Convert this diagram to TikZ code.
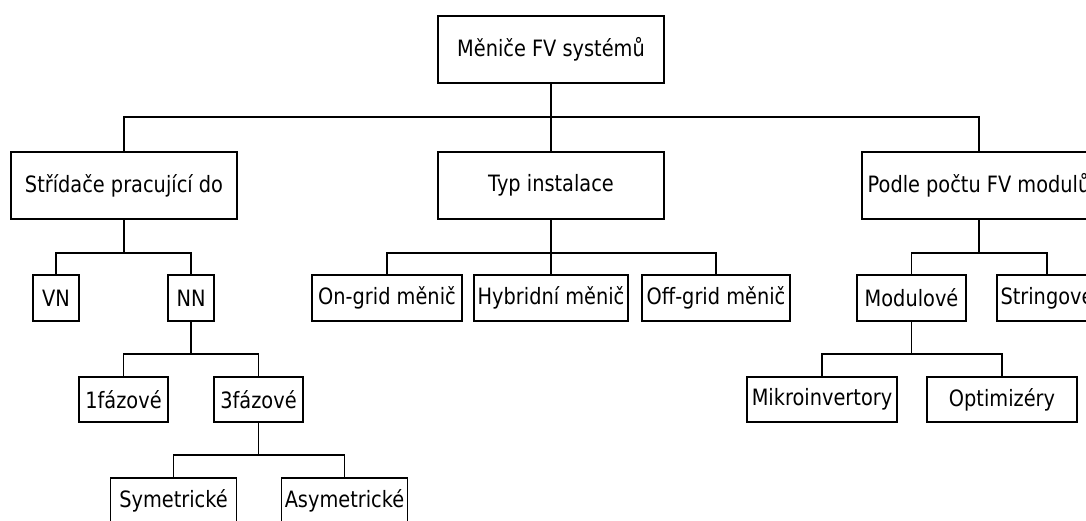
\documentclass[tikz,border=0pt]{standalone}
\usepackage{fontspec}
\setmainfont{DejaVu Sans}[FakeStretch=0.86]
\begin{document}
\begin{tikzpicture}[x=1pt,y=1pt,
  box/.style={draw=black, line width=1.9pt, inner sep=0pt, align=center,
    font=\fontsize{22.5}{27}\selectfont},
  lnk/.style={draw=black, line width=1.9pt}]
\useasboundingbox (0,0) rectangle (1086,-521);
\clip (0,0) rectangle (1086,-521);
\fill[white] (0,0) rectangle (1086,-521);
% level 0
\node[box, minimum width=226, minimum height=67] (root) at (551,-49.5) {Měniče FV systémů};
% level 1
\node[box, minimum width=226, minimum height=67] (str) at (124,-185.5) {Střídače pracující do};
\node[box, minimum width=226, minimum height=67] (typ) at (551,-185.5) {Typ instalace};
\node[box, minimum width=234, minimum height=67] (pod) at (979,-185.5) {Podle počtu FV modulů};
% level 2
\node[box, minimum width=46, minimum height=46] (vn) at (56,-298) {VN};
\node[box, minimum width=46, minimum height=46] (nn) at (191,-298) {NN};
\node[box, minimum width=150, minimum height=46] (on) at (387,-298) {On-grid měnič};
\node[box, minimum width=154, minimum height=46] (hy) at (551,-298) {Hybridní měnič};
\node[box, minimum width=148, minimum height=46] (off) at (716,-298) {Off-grid měnič};
\node[box, minimum width=109, minimum height=46] (mod) at (911.5,-298) {Modulové};
\node[box, minimum width=100, minimum height=46] (stri) at (1047,-298) {Stringové};
% level 3
\node[box, minimum width=89, minimum height=45] (f1) at (123.5,-399.5) {1fázové};
\node[box, minimum width=89, minimum height=45] (f3) at (258.5,-399.5) {3fázové};
\node[box, minimum width=150, minimum height=45] (mik) at (822,-399.5) {Mikroinvertory};
\node[box, minimum width=150, minimum height=45] (opt) at (1002,-399.5) {Optimizéry};
% level 4
\node[box, minimum width=126, minimum height=46] (sym) at (173.5,-501) {Symetrické};
\node[box, minimum width=126, minimum height=46] (asym) at (344.5,-501) {Asymetrické};
% bus levels
\coordinate (b0) at (0,-117);
\coordinate (b1) at (0,-253);
\coordinate (b2) at (0,-354);
\coordinate (b3) at (0,-455);
% connectors
\foreach \c in {str,typ,pod}
  \draw[lnk] (root.south) -- (root.south |- b0) -| (\c.north);
\foreach \c in {vn,nn}
  \draw[lnk] (str.south) -- (str.south |- b1) -| (\c.north);
\foreach \c in {on,hy,off}
  \draw[lnk] (typ.south) -- (typ.south |- b1) -| (\c.north);
\foreach \c in {mod,stri}
  \draw[lnk] (pod.south) -- (pod.south |- b1) -| (\c.north);
\foreach \c in {f1,f3}
  \draw[lnk] (nn.south) -- (nn.south |- b2) -| (\c.north);
\foreach \c in {mik,opt}
  \draw[lnk] (mod.south) -- (mod.south |- b2) -| (\c.north);
\foreach \c in {sym,asym}
  \draw[lnk] (f3.south) -- (f3.south |- b3) -| (\c.north);
\end{tikzpicture}
\end{document}
